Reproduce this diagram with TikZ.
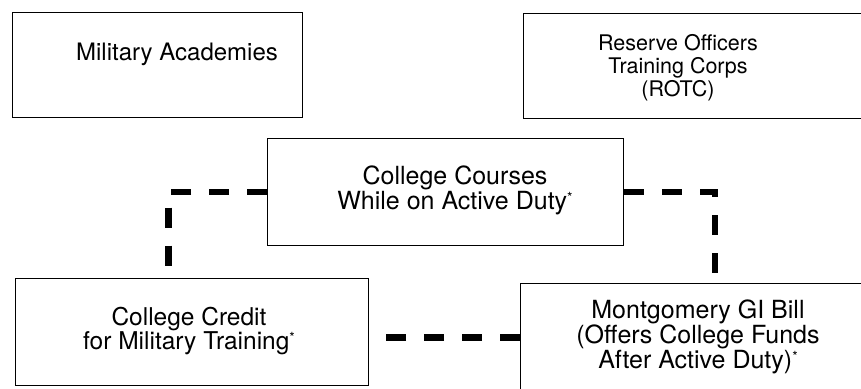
\documentclass[tikz,border=0pt]{standalone}
\usepackage{fontspec}
\setmainfont{TeX Gyre Heros}
\newcommand{\smallstar}{{\fontsize{14}{14}\selectfont\raisebox{7.5pt}{*}}}
\begin{document}
\begin{tikzpicture}[x=1pt,y=-1pt,
  box/.style={draw,line width=1.2pt,rectangle,inner sep=0pt,anchor=north west},
  lbl/.style={align=center,inner sep=0pt,anchor=north},
  conn/.style={line width=6.5pt,dash pattern=on 20pt off 18pt}]
\useasboundingbox (0,0) rectangle (861,388);
\clip (0,0) rectangle (861,388);
\node[box,minimum width=290pt,minimum height=105pt] (ma) at (12,12) {};
\node[box,minimum width=360pt,minimum height=105pt] (rotc) at (523,13) {};
\node[box,minimum width=356pt,minimum height=107pt] (cc) at (267,138) {};
\node[box,minimum width=353pt,minimum height=107pt] (cr) at (15,278) {};
\node[box,minimum width=360pt,minimum height=108pt] (gi) at (520,283) {};
\node[lbl,font=\fontsize{24}{23}\selectfont] (tma) at (177,43) {Military Academies};
\node[lbl,font=\fontsize{21.5}{23}\selectfont] (trotc) at (678,34) {Reserve Officers\\Training Corps\\(ROTC)};
\node[lbl,font=\fontsize{25}{23}\selectfont] (tcc) at (455,166) {College Courses\\While on Active Duty\smallstar};
\node[lbl,font=\fontsize{24.5}{22}\selectfont] (tcr) at (189,307) {College Credit\\for Military Training\smallstar};
\node[lbl,font=\fontsize{25}{25}\selectfont] (tgi) at (698,300) {Montgomery GI Bill\\(Offers College Funds\\After Active Duty)\smallstar};
\draw[conn] (cc.west) -| ([xshift=-23.5pt]cr.north);
\draw[conn] (cc.east) -| ([xshift=195pt]gi.north west);
\draw[conn] (gi.west) -- (gi.west -| cr.east);
\end{tikzpicture}
\end{document}
